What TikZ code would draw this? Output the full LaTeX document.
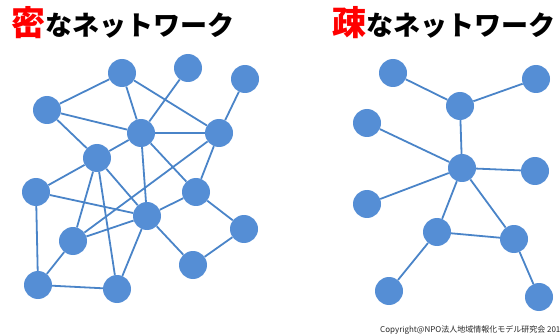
\documentclass[tikz,border=0pt]{standalone}
\usepackage{fontspec}
\newfontfamily\cjk{Noto Sans CJK JP}
\definecolor{nodeblue}{HTML}{558ED5}
\definecolor{edgeblue}{HTML}{4A84C8}
\begin{document}
\begin{tikzpicture}[x=1pt,y=-1pt,
  nd/.style={circle,fill=nodeblue,minimum size=28pt,inner sep=0pt},
  ed/.style={draw=edgeblue,line width=1.8pt}]
\useasboundingbox (0,0) rectangle (560,334);
\clip (0,0) rectangle (560,334);
% titles
\node[anchor=base west,inner sep=0pt] (t1) at (11,36) {\cjk\bfseries\textcolor{red}{\fontsize{34}{34}\selectfont 密}\fontsize{27}{27}\selectfont なネットワーク};
\node[anchor=base west,inner sep=0pt] (t2) at (332,36) {\cjk\bfseries\textcolor{red}{\fontsize{34}{34}\selectfont 疎}\fontsize{27}{27}\selectfont なネットワーク};
\node[anchor=base west,inner sep=0pt,text=black!85] (cr) at (380,332) {\cjk\fontsize{8}{8}\selectfont Copyright@NPO法人地域情報化モデル研究会 2019};
% dense network
\node[nd] (A) at (122,73) {};
\node[nd] (B) at (188,68) {};
\node[nd] (C) at (245,79) {};
\node[nd] (D) at (47,110) {};
\node[nd] (E) at (141,133) {};
\node[nd] (F) at (219,133) {};
\node[nd] (G) at (97,158) {};
\node[nd] (H) at (36,192) {};
\node[nd] (I) at (196,192) {};
\node[nd] (J) at (147,216) {};
\node[nd] (K) at (244,229) {};
\node[nd] (L) at (73,241) {};
\node[nd] (M) at (193,265) {};
\node[nd] (N) at (38,285) {};
\node[nd] (O) at (117,289) {};
\foreach \a/\b in {D/A,D/E,D/G,A/E,A/F,B/E,C/F,E/F,E/G,E/J,E/I,F/I,F/L,G/H,G/L,G/O,G/J,H/J,H/N,L/J,L/N,N/O,J/O,J/I,J/M,I/K,K/M}
  \draw[ed] (\a) -- (\b);
% sparse network
\node[nd] (P) at (393,73) {};
\node[nd] (Q) at (460,106) {};
\node[nd] (R) at (536,79) {};
\node[nd] (S) at (367,123) {};
\node[nd] (T) at (462,168) {};
\node[nd] (U) at (535,171) {};
\node[nd] (V) at (367,204) {};
\node[nd] (W) at (437,232) {};
\node[nd] (X) at (514,239) {};
\node[nd] (Y) at (389,291) {};
\node[nd] (Z) at (539,297) {};
\foreach \a/\b in {P/Q,Q/R,Q/T,S/T,T/U,T/V,T/W,T/X,W/X,W/Y,X/Z}
  \draw[ed] (\a) -- (\b);
\end{tikzpicture}
\end{document}
